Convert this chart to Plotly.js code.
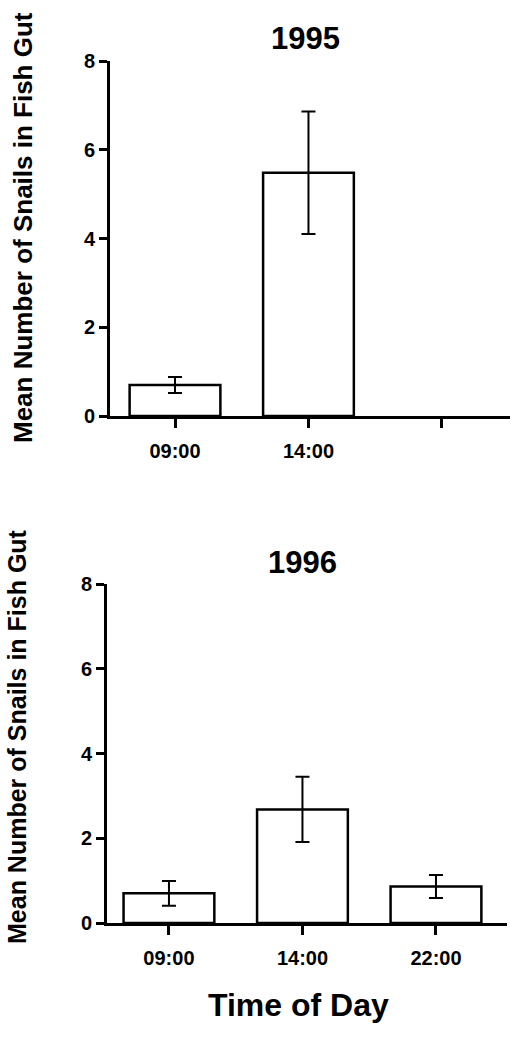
<!DOCTYPE html>
<html>
<head>
<meta charset="utf-8">
<script src="https://cdn.plot.ly/plotly-3.0.1.min.js"></script>
<style>html,body{margin:0;padding:0;background:#fff;}#chart{width:510px;height:1050px;}</style>
</head>
<body>
<div id="chart"></div>
<script>
// Data
const timesAll = ["09:00", "14:00", "22:00"];
const labels1995 = ["09:00", "14:00", ""];
const times1995 = ["09:00", "14:00"];
const mean1995 = [0.70, 5.48];
const err1995 = [0.18, 1.38];
const times1996 = ["09:00", "14:00", "22:00"];
const mean1996 = [0.70, 2.68, 0.86];
const err1996 = [0.29, 0.77, 0.27];
const yTicks = [0, 2, 4, 6, 8];
const title1995 = "1995";
const title1996 = "1996";
const yTitle = "Mean Number of Snails in Fish Gut";
const xTitle = "Time of Day";

const FONT = "Liberation Sans, Arial, Helvetica, sans-serif";

function barTrace(x, y, e, xa, ya) {
  return {
    type: "bar", x: x, y: y, xaxis: xa, yaxis: ya,
    width: 0.68,
    marker: {color: "#ffffff", line: {color: "#000000", width: 2.5}},
    error_y: {type: "data", array: e, visible: true, color: "#000000", thickness: 2, width: 7},
    showlegend: false, hoverinfo: "skip"
  };
}

const data = [
  barTrace(times1995, mean1995, err1995, "x", "y"),
  barTrace(times1996, mean1996, err1996, "x2", "y2")
];

function xAxis(domain, range, ticktext, anchor) {
  return {
    domain: domain, anchor: anchor, type: "category",
    categoryorder: "array", categoryarray: timesAll,
    range: range, tickmode: "array", tickvals: timesAll, ticktext: ticktext,
    showline: true, linecolor: "#000", linewidth: 3,
    ticks: "outside", ticklen: 9, tickwidth: 3, tickcolor: "#000",
    ticklabelstandoff: 6,
    showgrid: false, zeroline: false, fixedrange: true,
    tickfont: {family: FONT, size: 20, color: "#000", weight: "bold"}
  };
}
function yAxis(domain, anchor) {
  return {
    domain: domain, anchor: anchor, range: [0, 8],
    tickmode: "array", tickvals: yTicks, ticktext: yTicks.map(String),
    showline: true, linecolor: "#000", linewidth: 3,
    ticks: "outside", ticklen: 8, tickwidth: 3, tickcolor: "#000",
    showgrid: false, zeroline: false, fixedrange: true,
    tickfont: {family: FONT, size: 20, color: "#000", weight: "bold"}
  };
}

const W = 510, H = 1050;
const layout = {
  width: W, height: H,
  margin: {l: 0, r: 0, t: 0, b: 0},
  paper_bgcolor: "#fff", plot_bgcolor: "#fff",
  showlegend: false,
  xaxis: xAxis([110 / W, 1], [-0.487, 2.51], labels1995, "y"),
  yaxis: yAxis([1 - 416 / H, 1 - 61 / H], "x"),
  xaxis2: xAxis([107 / W, 507 / W], [-0.464, 2.532], timesAll, "y2"),
  yaxis2: yAxis([1 - 923 / H, 1 - 584 / H], "x2"),
  annotations: [
    {text: title1995, xref: "paper", yref: "paper", x: 305 / W, y: 1 - 38 / H,
     xanchor: "center", yanchor: "middle", showarrow: false,
     font: {family: FONT, size: 31, color: "#000", weight: "bold"}},
    {text: title1996, xref: "paper", yref: "paper", x: 302 / W, y: 1 - 562 / H,
     xanchor: "center", yanchor: "middle", showarrow: false,
     font: {family: FONT, size: 31, color: "#000", weight: "bold"}},
    {text: yTitle, xref: "paper", yref: "paper", x: 23 / W, y: 1 - 228 / H,
     xanchor: "center", yanchor: "middle", showarrow: false, textangle: -90,
     font: {family: FONT, size: 26, color: "#000", weight: "bold"}},
    {text: yTitle, xref: "paper", yref: "paper", x: 17 / W, y: 1 - 737 / H,
     xanchor: "center", yanchor: "middle", showarrow: false, textangle: -90,
     font: {family: FONT, size: 25, color: "#000", weight: "bold"}},
    {text: xTitle, xref: "paper", yref: "paper", x: 298 / W, y: 1 - 1005 / H,
     xanchor: "center", yanchor: "middle", showarrow: false,
     font: {family: FONT, size: 32, color: "#000", weight: "bold"}}
  ]
};

Plotly.newPlot("chart", data, layout, {displayModeBar: false, staticPlot: true});
</script>
</body>
</html>
